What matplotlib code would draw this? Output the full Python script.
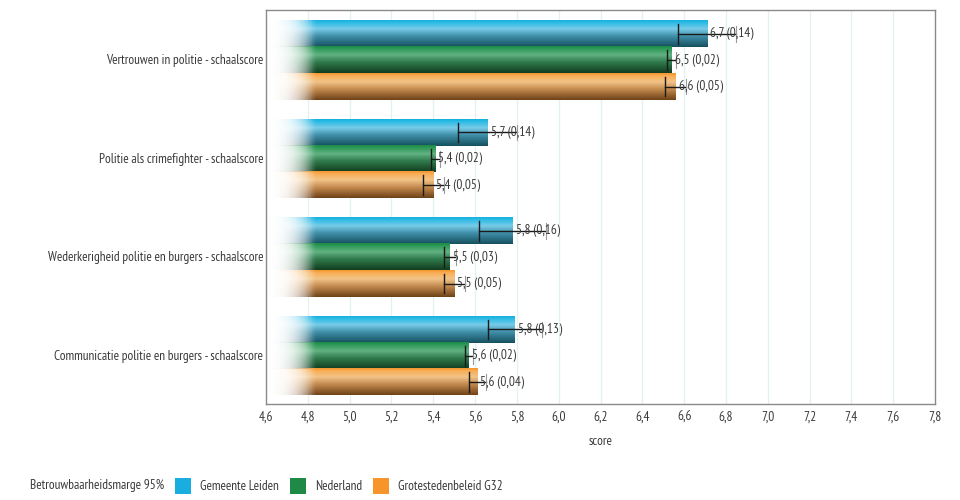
import numpy as np
import matplotlib
matplotlib.use("Agg")
import matplotlib.pyplot as plt
from matplotlib.colors import to_rgb
from matplotlib.patches import Rectangle
from matplotlib import font_manager

fams = {f.name for f in font_manager.fontManager.ttflist}
cands = ["PT Sans Narrow", "Ubuntu Condensed", "DejaVu Sans Condensed", "Liberation Sans Narrow",
         "Roboto Condensed", "Open Sans Condensed", "Lato", "Roboto", "DejaVu Sans"]
base = [f for f in cands if f in fams][:1]
plt.rcParams['font.family'] = base + ['DejaVu Sans']

categories = [
    "Vertrouwen in politie - schaalscore",
    "Politie als crimefighter - schaalscore",
    "Wederkerigheid politie en burgers - schaalscore",
    "Communicatie politie en burgers - schaalscore",
]
series = ["Gemeente Leiden", "Nederland", "Grotestedenbeleid G32"]
values = {
    "Gemeente Leiden": [6.71, 5.66, 5.78, 5.79],
    "Nederland": [6.54, 5.41, 5.48, 5.57],
    "Grotestedenbeleid G32": [6.56, 5.40, 5.50, 5.61],
}
margins = {
    "Gemeente Leiden": [0.14, 0.14, 0.16, 0.13],
    "Nederland": [0.02, 0.02, 0.03, 0.02],
    "Grotestedenbeleid G32": [0.05, 0.05, 0.05, 0.04],
}
labels = {
    "Gemeente Leiden": ["6,7 (0,14)", "5,7 (0,14)", "5,8 (0,16)", "5,8 (0,13)"],
    "Nederland": ["6,5 (0,02)", "5,4 (0,02)", "5,5 (0,03)", "5,6 (0,02)"],
    "Grotestedenbeleid G32": ["6,6 (0,05)", "5,4 (0,05)", "5,5 (0,05)", "5,6 (0,04)"],
}
xticks = [4.6, 4.8, 5.0, 5.2, 5.4, 5.6, 5.8, 6.0, 6.2, 6.4, 6.6, 6.8, 7.0, 7.2, 7.4, 7.6, 7.8]
legend_title = "Betrouwbaarheidsmarge 95%"

legend_colors = {"Gemeente Leiden": "#1aaee0", "Nederland": "#1e8a45", "Grotestedenbeleid G32": "#f7942a"}
grad_stops = {
    "Gemeente Leiden": [(0.0, "#16b0de"), (0.1, "#2fbce6"), (0.32, "#78cce8"), (0.6, "#3f8ea8"), (1.0, "#16505f")],
    "Nederland": [(0.0, "#1c8c48"), (0.1, "#2f9a58"), (0.32, "#62b282"), (0.6, "#2f7a4c"), (1.0, "#123d20")],
    "Grotestedenbeleid G32": [(0.0, "#f6962c"), (0.1, "#f8ae56"), (0.32, "#f2c488"), (0.6, "#c48a4e"), (1.0, "#6e4218")],
}

text_color = "#3a3a3a"
fig = plt.figure(figsize=(9.6, 5.0), dpi=100)
renderer = fig.canvas.get_renderer()

# choose font size so the longest category label is ~219 px wide, as in the reference
probe = fig.text(0, 0, categories[2], fontsize=10)
w10 = probe.get_window_extent(renderer).width
probe.remove()
fs = max(7.0, min(10.0, 10.0 * 219.0 / w10))

ax = fig.add_axes([266/960, 1-404/500, (935-266)/960, 394/500])
xmin, xmax = 4.6, 7.8
ax.set_xlim(xmin, xmax)
ax.set_ylim(3.5, -0.5)

for t in xticks[1:-1]:
    ax.axvline(t, color="#e3f1f5", lw=0.9, zorder=0)

bh = 0.8 / 3
fade = 0.24
H = 60
for si, s in enumerate(series):
    stops = grad_stops[s]
    pos = [p for p, _ in stops]
    cols = np.array([to_rgb(c) for _, c in stops])
    tt = np.linspace(0, 1, H)
    vcol = np.stack([np.interp(tt, pos, cols[:, k]) for k in range(3)], axis=1)
    for ci, v in enumerate(values[s]):
        y0 = ci - 0.4 + si * bh + 0.01
        W = 400
        xs = np.linspace(xmin, v, W)
        a = np.clip((xs - xmin) / fade, 0, 1)
        a = a ** 1.6
        img = np.zeros((H, W, 4))
        img[..., :3] = vcol[:, None, :] * a[None, :, None] + (1 - a[None, :, None])
        img[..., 3] = np.clip(0.1 + a, 0, 1)[None, :]
        ax.imshow(img, extent=[xmin, v, y0 + bh, y0], aspect='auto',
                  interpolation='bilinear', zorder=2)
        m = margins[s][ci]
        yc = y0 + bh / 2
        ax.plot([v - m, v + m], [yc, yc], color="#1a1a1a", lw=1.0, zorder=4)
        ax.plot([v - m, v - m], [yc - 0.1, yc + 0.1], color="#1a1a1a", lw=1.0, zorder=4)
        ax.plot([v + m, v + m], [yc - 0.08, yc + 0.08], color="#9a9a9a", lw=0.8, zorder=4)
        ax.text(v + 0.015, yc, labels[s][ci], ha='left', va='center', fontsize=fs,
                color=text_color, zorder=5)

ax.set_yticks(range(len(categories)))
ax.set_yticklabels(categories, fontsize=fs, color=text_color)
ax.set_xticks(xticks)
ax.set_xticklabels([f"{t:.1f}".replace('.', ',') for t in xticks], fontsize=fs, color=text_color)
ax.tick_params(length=0, pad=5)
ax.tick_params(axis='y', pad=2)
for sp in ax.spines.values():
    sp.set_color("#8a8a8a")
    sp.set_linewidth(1.0)
ax.set_xlabel("score", fontsize=fs, color=text_color, labelpad=8)

# legend built manually, positioned in pixels
ly = 1 - 486/500
t0 = fig.text(30/960, ly, legend_title, fontsize=fs, color=text_color, va='center', ha='left')
xpix = t0.get_window_extent(renderer).x1 + 11
sq = 16
for s in series:
    fig.patches.append(Rectangle((xpix/960, ly - sq/2/500), sq/960, sq/500,
                                 transform=fig.transFigure, facecolor=legend_colors[s],
                                 edgecolor='none'))
    tt_ = fig.text((xpix + sq + 9)/960, ly, s, fontsize=fs, color=text_color, va='center', ha='left')
    xpix = tt_.get_window_extent(renderer).x1 + 11

fig.savefig("out.png", dpi=100)
